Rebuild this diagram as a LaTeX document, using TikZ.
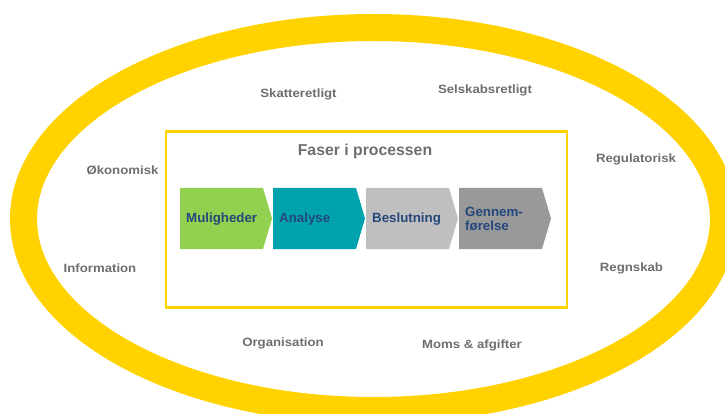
\documentclass[tikz,border=0pt]{standalone}
\usepackage{fontspec}
\setmainfont{Liberation Sans}
\newfontfamily\labfont[FakeStretch=1.1]{Liberation Sans}
\usetikzlibrary{positioning}

\definecolor{ringyellow}{HTML}{FFD200}
\definecolor{labgray}{HTML}{6E6E6E}
\definecolor{phaseblue}{HTML}{24477C}
\definecolor{mulgreen}{HTML}{92D050}
\definecolor{anateal}{HTML}{00A3AD}
\definecolor{beslgray}{HTML}{BFBFBF}
\definecolor{gengray}{HTML}{999999}

\tikzset{
	area/.style={font=\labfont\bfseries\fontsize{12}{14}\selectfont, text=labgray, anchor=base, inner sep=0pt},
	phase/.style={font=\bfseries\fontsize{13.3}{14.5}\selectfont, text=phaseblue, anchor=west, align=left, inner sep=0pt},
	title/.style={font=\bfseries\fontsize{15.8}{18}\selectfont, text=labgray, anchor=base, inner sep=0pt}
}

\begin{document}
\begin{tikzpicture}[x=1pt,y=-1pt]
	
	\useasboundingbox (0,0) rectangle (725,414);
	\clip (0,0) rectangle (725,414);
	
	% ring and frame
	\draw[ringyellow, line width=27pt] (373.5,219) ellipse [x radius=350, y radius=191.5];
	\draw[ringyellow, line width=2.5pt] (166,131.5) rectangle (567,307.5);
	
	\node[title] (faser) at (365,156) {Faser i processen};
	
	% phases
	\foreach \x/\col/\nm/\txt in {180/mulgreen/mul/Muligheder, 273/anateal/ana/Analyse, 366/beslgray/besl/Beslutning, 459/gengray/gen/{Gennem-\\førelse}}{
		\fill[\col] (\x,188) -- ++(83,0) -- ++(9,30.5) -- ++(-9,30.5) -- ++(-83,0) -- cycle;
		\node[phase] (\nm) at (\x+6,219) {\txt};
	}
	
	% areas
	\node[area] (skat) at (298.5,97.5) {Skatteretligt};
	\node[area] (selsk) at (485,94) {Selskabsretligt};
	\node[area] (oek) at (122.5,175) {Økonomisk};
	\node[area] (regul) at (636,163) {Regulatorisk};
	\node[area] (info) at (100,272) {Information};
	\node[area] (regn) at (631.5,271) {Regnskab};
	\node[area] (org) at (283,346.5) {Organisation};
	\node[area] (moms) at (472,348) {Moms \& afgifter};
	
\end{tikzpicture}
\end{document}
